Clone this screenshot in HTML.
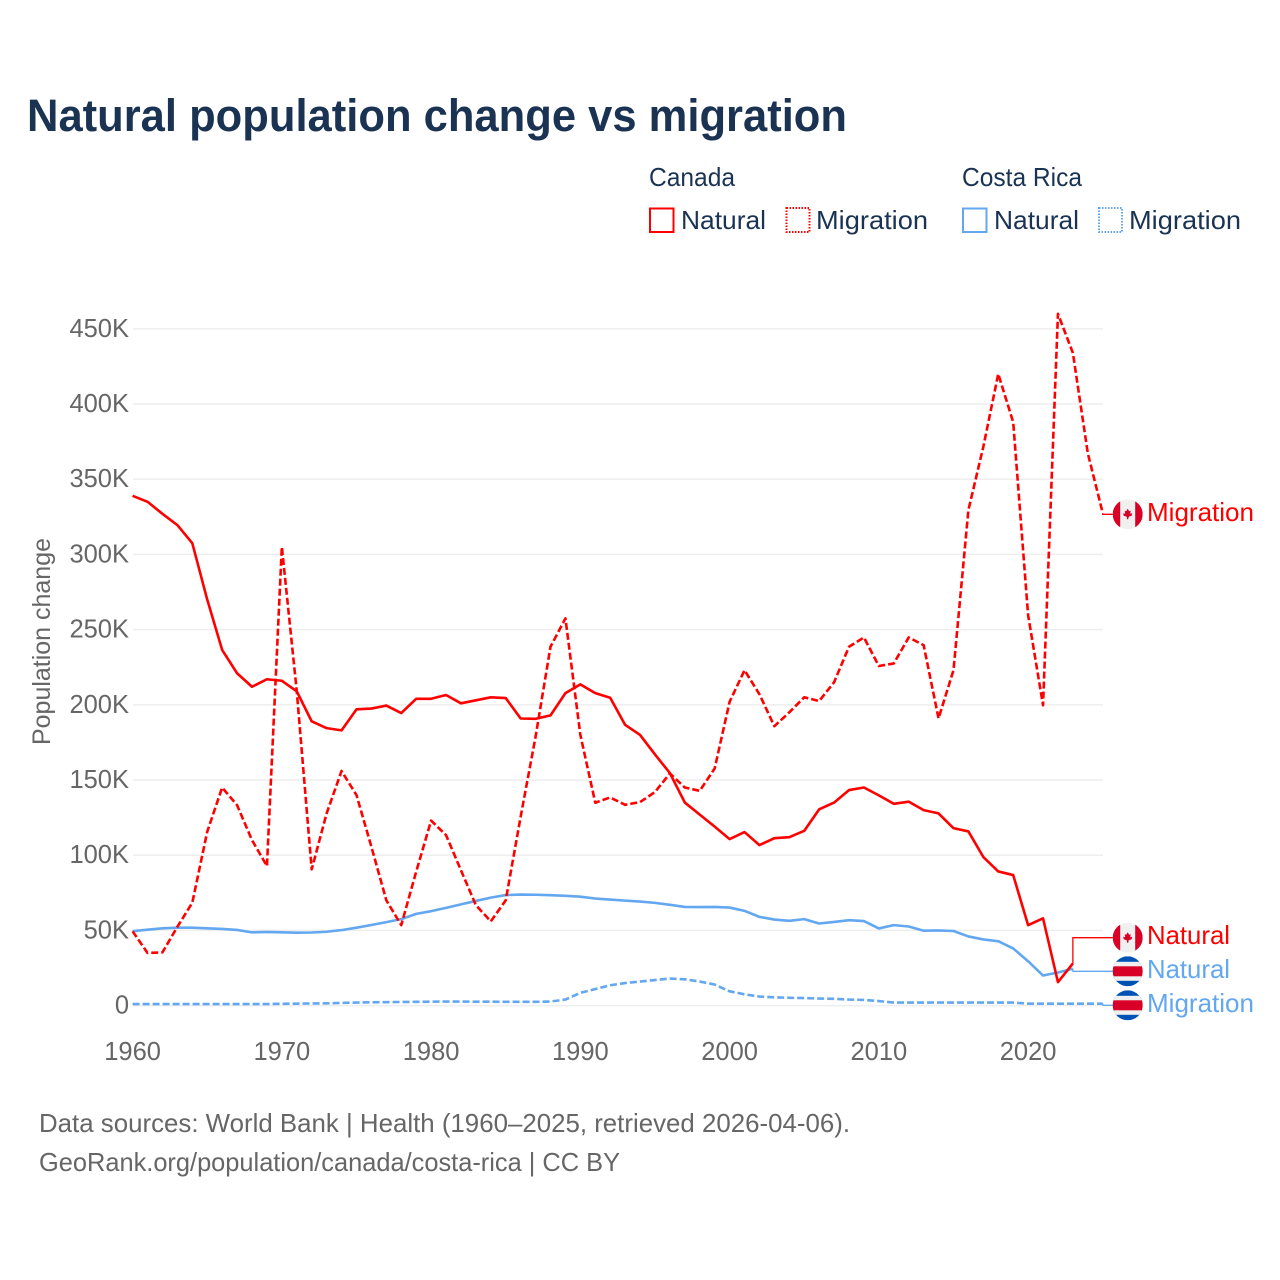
<!DOCTYPE html>
<html lang="en">
<head>
<meta charset="utf-8">
<title>Natural population change vs migration</title>
<style>
html,body{margin:0;padding:0;background:#fff;}
svg{display:block;font-family:"Liberation Sans",sans-serif;}
</style>
</head>
<body>
<svg id="chart" xmlns="http://www.w3.org/2000/svg" width="1280" height="1280" viewBox="0 0 1280 1280">
  <defs>
    <clipPath id="flag-clip"><circle cx="0" cy="0" r="15"/></clipPath>
  </defs>
  <rect width="1280" height="1280" fill="#ffffff"/>
  <text x="27" y="131" font-size="45" font-weight="700" fill="#1a3353" textLength="820" lengthAdjust="spacingAndGlyphs">Natural population change vs migration</text>

  <g font-size="26" fill="#1a3353">
    <text x="649" y="186" textLength="86" lengthAdjust="spacingAndGlyphs">Canada</text>
    <text x="962" y="186" textLength="120" lengthAdjust="spacingAndGlyphs">Costa Rica</text>
    <g>
      <rect x="650" y="208.500" width="23.500" height="23.500" fill="none" stroke="#ff0000" stroke-width="2"/>
      <text x="681" y="229" textLength="85" lengthAdjust="spacingAndGlyphs">Natural</text>
    </g>
    <g>
      <rect x="786.500" y="208" width="23" height="24" fill="none" stroke="#ff0000" stroke-width="2" stroke-dasharray="1.500 1.500"/>
      <text x="816" y="229" textLength="112" lengthAdjust="spacingAndGlyphs">Migration</text>
    </g>
    <g>
      <rect x="963" y="208.500" width="23.500" height="23.500" fill="none" stroke="#63a7f0" stroke-width="2"/>
      <text x="994" y="229" textLength="85" lengthAdjust="spacingAndGlyphs">Natural</text>
    </g>
    <g>
      <rect x="1099" y="208" width="23" height="24" fill="none" stroke="#63a7f0" stroke-width="2" stroke-dasharray="1.500 1.500"/>
      <text x="1129" y="229" textLength="112" lengthAdjust="spacingAndGlyphs">Migration</text>
    </g>
  </g>

  <g id="grid"></g>
  <g id="yticks" font-size="25.500" fill="#666666" text-anchor="end"></g>
  <g id="xticks" font-size="25.500" fill="#666666" text-anchor="middle"></g>
  <text transform="translate(50 641.500) rotate(-90)" font-size="25" fill="#666666" text-anchor="middle" textLength="207" lengthAdjust="spacingAndGlyphs">Population change</text>

  <g id="series"></g>

  <g transform="translate(1127.700 514.300)" clip-path="url(#flag-clip)">
    <rect x="-15" y="-15" width="30" height="30" fill="#f0f0f0"/>
    <rect x="-15" y="-15" width="7.500" height="30" fill="#d80027"/>
    <rect x="7.500" y="-15" width="7.500" height="30" fill="#d80027"/>
    <path d="M0 -5.500 L1.500 -3 L3 -3.500 L2.500 -0.500 L4.500 -1 L4 1.500 L1 2.500 L0.500 5 L-0.500 5 L-1 2.500 L-4 1.500 L-4.500 -1 L-2.500 -0.500 L-3 -3.500 L-1.500 -3 Z" fill="#d80027"/>
  </g>
  <g transform="translate(1127.700 937.700)" clip-path="url(#flag-clip)">
    <rect x="-15" y="-15" width="30" height="30" fill="#f0f0f0"/>
    <rect x="-15" y="-15" width="7.500" height="30" fill="#d80027"/>
    <rect x="7.500" y="-15" width="7.500" height="30" fill="#d80027"/>
    <path d="M0 -5.500 L1.500 -3 L3 -3.500 L2.500 -0.500 L4.500 -1 L4 1.500 L1 2.500 L0.500 5 L-0.500 5 L-1 2.500 L-4 1.500 L-4.500 -1 L-2.500 -0.500 L-3 -3.500 L-1.500 -3 Z" fill="#d80027"/>
  </g>
  <g transform="translate(1127.700 971.300)" clip-path="url(#flag-clip)">
    <rect x="-15" y="-15" width="30" height="30" fill="#0052b4"/>
    <rect x="-15" y="-9.500" width="30" height="19" fill="#f0f0f0"/>
    <rect x="-15" y="-5" width="30" height="10" fill="#d80027"/>
  </g>
  <g transform="translate(1127.700 1005.300)" clip-path="url(#flag-clip)">
    <rect x="-15" y="-15" width="30" height="30" fill="#0052b4"/>
    <rect x="-15" y="-9.500" width="30" height="19" fill="#f0f0f0"/>
    <rect x="-15" y="-5" width="30" height="10" fill="#d80027"/>
  </g>

  <g font-size="26">
    <text x="1147" y="521" fill="#ff0000" textLength="107" lengthAdjust="spacingAndGlyphs">Migration</text>
    <text x="1147" y="944" fill="#ff0000" textLength="83" lengthAdjust="spacingAndGlyphs">Natural</text>
    <text x="1147" y="978" fill="#63a7f0" textLength="83" lengthAdjust="spacingAndGlyphs">Natural</text>
    <text x="1147" y="1012" fill="#63a7f0" textLength="107" lengthAdjust="spacingAndGlyphs">Migration</text>
  </g>

  <g font-size="26" fill="#666666">
    <text x="39" y="1132" textLength="811" lengthAdjust="spacingAndGlyphs">Data sources: World Bank | Health (1960–2025, retrieved 2026-04-06).</text>
    <text x="39" y="1171" textLength="581" lengthAdjust="spacingAndGlyphs">GeoRank.org/population/canada/costa-rica | CC BY</text>
  </g>
</svg>
<script>
const startYear = 1960;
const yTickValues = [0, 50, 100, 150, 200, 250, 300, 350, 400, 450];
const yTickLabels = ["0", "50K", "100K", "150K", "200K", "250K", "300K", "350K", "400K", "450K"];
const xTickValues = [1960, 1970, 1980, 1990, 2000, 2010, 2020];
const xTickLabels = ["1960", "1970", "1980", "1990", "2000", "2010", "2020"];

const canadaNatural = [339,335,327,319.5,307.5,270,236.5,221,212,217,216,209,189,184.5,183,197,197.5,199.5,194.5,204,204,206.5,201,203,205,204.5,190.9,190.7,193,207.8,213.6,207.8,204.7,186.7,180,167,154.6,135,127,119,110.7,115.4,106.7,111.3,112,116.2,130.5,135,143.3,145,139.8,134.2,135.6,130,127.8,118,115.8,98.8,89.2,86.8,53.5,58,15.6,28];
const canadaMigration = [49.4,35,35.4,52.4,68.4,115.6,145,133.3,110,92.8,305,209,90.6,127.8,156,140,105.6,70,53.5,89,123,113.4,90,66.8,56,70,125.6,178.8,238.6,257.5,180,134.9,138.4,133.5,135.3,142,154.4,145,142.8,157.7,202,223,207,185.8,195,205,202.5,215,238.6,244.8,225.8,227.5,244.8,239.7,191,223,329.5,371.6,420,388,259.7,199.7,460,434,367.3,327.5];
const costaRicaNatural = [49.5,50.5,51.4,51.8,51.8,51.4,51,50.3,48.7,49,48.7,48.5,48.6,49.1,50.2,51.8,53.6,55.5,57.5,61,62.8,65,67.3,69.6,71.8,73.5,73.8,73.7,73.4,73,72.4,71.2,70.5,69.8,69.2,68.3,67,65.6,65.5,65.6,65.2,63,59,57.2,56.4,57.5,54.6,55.6,56.8,56.2,51.3,53.5,52.6,49.8,50,49.6,46,44,42.8,38,29.5,20,22,24.5];
const costaRicaMigration = [1,1,1,1,1,1,1,1,1,1,1.2,1.3,1.4,1.5,1.8,2,2.2,2.3,2.4,2.5,2.6,2.7,2.7,2.6,2.6,2.5,2.5,2.5,2.7,4,8.5,11,13.5,15,16,17,18,17.5,16,14,9.5,7.5,6,5.5,5.2,5,4.7,4.5,4,3.8,3,2,2,2,2,2,2,2,2,2,1.3,1.3,1.3,1.3,1.3,1.3];

const NS = "http://www.w3.org/2000/svg";
const xScale = function (year) { return 132.6 + (year - startYear) * 14.925; };
const yScale = function (value) { return 1005.6 - value * 1.5039; };
const FLAG_X = 1113;

function make(tag, parent, attrs, text) {
  const el = document.createElementNS(NS, tag);
  for (const k in attrs) el.setAttribute(k, attrs[k]);
  if (text !== undefined) el.textContent = text;
  parent.appendChild(el);
  return el;
}

const grid = document.getElementById("grid");
const yTicksGroup = document.getElementById("yticks");
yTickValues.forEach(function (v, i) {
  const y = yScale(v);
  const line = make("line", grid, { x1: 133, x2: 1103, y1: y, y2: y, stroke: "#eeeeee", "stroke-width": 1.5 });
  
  
  const label = make("text", yTicksGroup, { x: 129, y: y + 8 }, yTickLabels[i]);
  
  
});

const xTicksGroup = document.getElementById("xticks");
xTickValues.forEach(function (v, i) {
  const label = make("text", xTicksGroup, { x: xScale(v), y: 1060 }, xTickLabels[i]);
  
  
});

function linePath(values) {
  return values.map(function (v, i) {
    return (i ? "L" : "M") + xScale(startYear + i).toFixed(2) + " " + yScale(v).toFixed(2);
  }).join(" ");
}

const seriesGroup = document.getElementById("series");

const pathCostaMig = make("path", seriesGroup, { d: linePath(costaRicaMigration), fill: "none", stroke: "#63a7f0", "stroke-width": 2.6, "stroke-dasharray": "7 3", "stroke-linejoin": "round" });



const pathCostaNat = make("path", seriesGroup, { d: linePath(costaRicaNatural), fill: "none", stroke: "#63a7f0", "stroke-width": 2.6, "stroke-linejoin": "round" });



const pathCanadaMig = make("path", seriesGroup, { d: linePath(canadaMigration), fill: "none", stroke: "#ff0000", "stroke-width": 2.6, "stroke-dasharray": "7 3", "stroke-linejoin": "round" });



const pathCanadaNat = make("path", seriesGroup, { d: linePath(canadaNatural), fill: "none", stroke: "#ff0000", "stroke-width": 2.6, "stroke-linejoin": "round" });



function connector(values, color, flagY, name) {
  const last = values.length - 1;
  const x = xScale(startYear + last);
  const y = yScale(values[last]);
  const el = make("path", seriesGroup, { d: "M" + x + " " + y + " L" + x + " " + flagY + " L" + FLAG_X + " " + flagY, fill: "none", stroke: color, "stroke-width": 1.3 });
  
  
}
connector(canadaMigration, "#ff0000", 514.3, "connector-canada-migration");
connector(canadaNatural, "#ff0000", 937.7, "connector-canada-natural");
connector(costaRicaNatural, "#63a7f0", 971.3, "connector-costa-rica-natural");
connector(costaRicaMigration, "#63a7f0", 1005.3, "connector-costa-rica-migration");
</script>
</body>
</html>
